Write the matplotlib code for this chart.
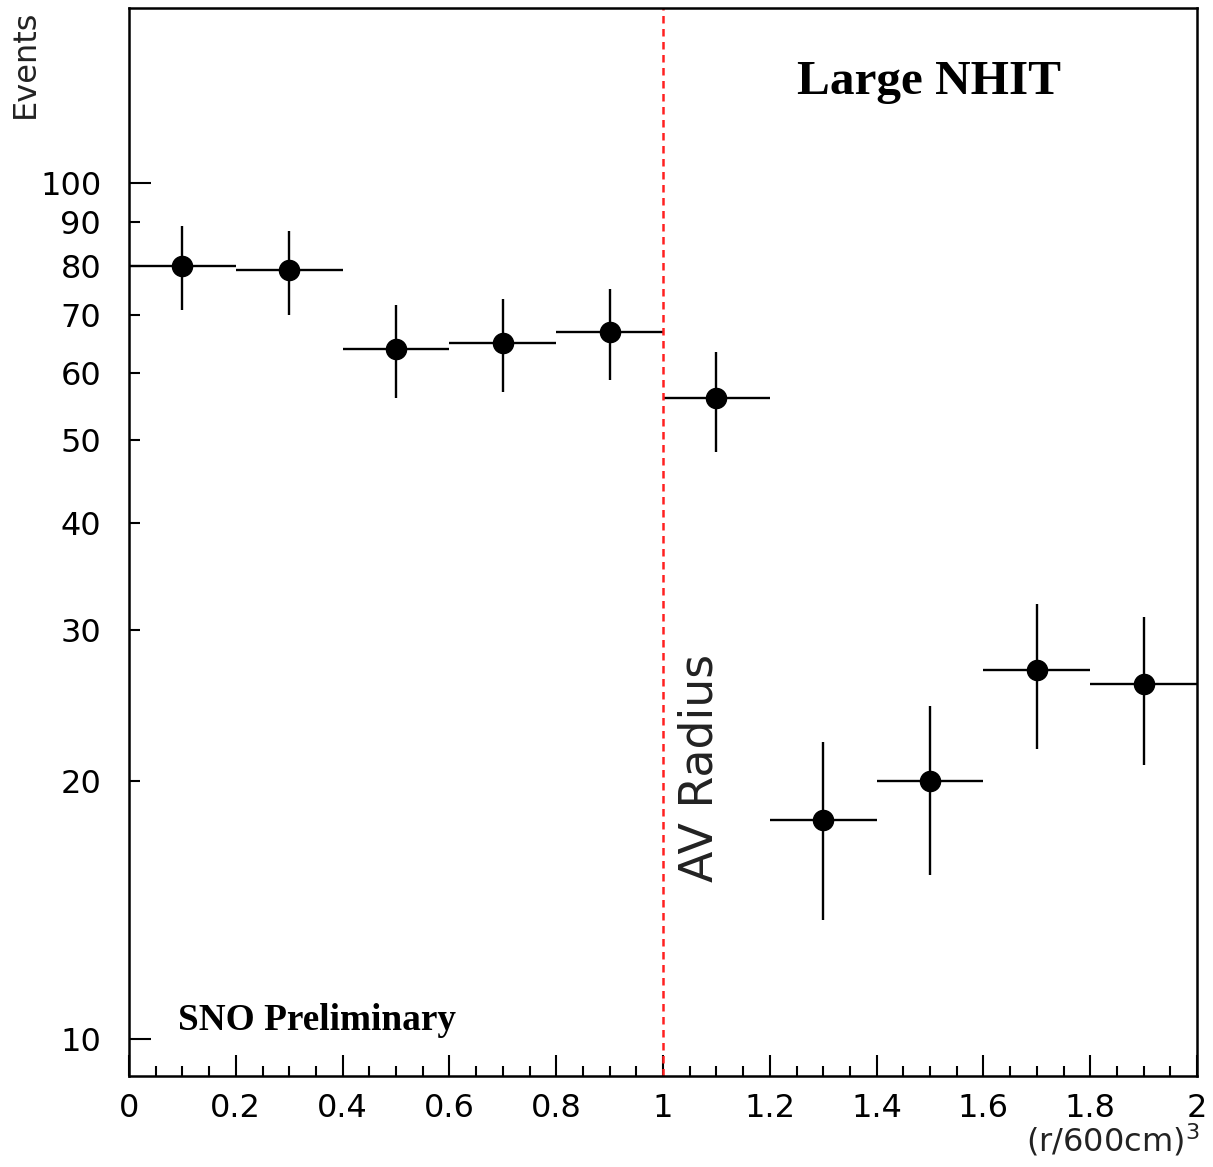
import numpy as np
import matplotlib
matplotlib.use("Agg")
import matplotlib.pyplot as plt
from matplotlib.ticker import FixedLocator, FixedFormatter

# Data
bin_centers = [0.1, 0.3, 0.5, 0.7, 0.9, 1.1, 1.3, 1.5, 1.7, 1.9]
bin_halfwidth = [0.1] * 10
counts = [80, 79, 64, 65, 67, 56, 18, 20, 27, 26]
count_err = [np.sqrt(c) for c in counts]

major_yticks = [10, 100]
minor_yticks = [20, 30, 40, 50, 60, 70, 80, 90]
xticks = [0, 0.2, 0.4, 0.6, 0.8, 1, 1.2, 1.4, 1.6, 1.8, 2]
xtick_labels = ["0", "0.2", "0.4", "0.6", "0.8", "1", "1.2", "1.4", "1.6", "1.8", "2"]

W, H = 1213, 1167
fig = plt.figure(figsize=(W / 100, H / 100), dpi=100)
ax = fig.add_axes([129 / W, 1 - 1076 / H, (1197 - 129) / W, (1076 - 8) / H])

ax.errorbar(bin_centers, counts, xerr=bin_halfwidth, yerr=count_err,
            fmt="o", color="black", ms=14.5, elinewidth=1.7, capsize=0)

ax.set_yscale("log")
ax.set_ylim(9.05, 160)
ax.set_xlim(0, 2)

ax.axvline(1.0, color="#ff2020", lw=1.8, ls=(0, (3, 2.2)))

# ticks
ax.yaxis.set_major_locator(FixedLocator(major_yticks))
ax.yaxis.set_major_formatter(FixedFormatter([str(v) for v in major_yticks]))
ax.yaxis.set_minor_locator(FixedLocator(minor_yticks))
ax.yaxis.set_minor_formatter(FixedFormatter([str(v) for v in minor_yticks]))
ax.set_xticks(xticks)
ax.set_xticklabels(xtick_labels)
ax.xaxis.set_minor_locator(FixedLocator(np.arange(0, 2.001, 0.05)))

tick_font = 23
ax.tick_params(axis="y", which="major", direction="in", length=16, width=1.5,
               labelsize=tick_font, pad=20, left=True, right=False)
ax.tick_params(axis="y", which="minor", direction="in", length=8, width=1.5,
               labelsize=tick_font, pad=20, left=True, right=False)
ax.tick_params(axis="x", which="major", direction="in", length=15, width=1.5,
               labelsize=tick_font, pad=12, top=False)
ax.tick_params(axis="x", which="minor", direction="in", length=7, width=1.5, top=False)

for s in ax.spines.values():
    s.set_linewidth(1.8)

# axis titles
fig.text(25 / W, 1 - 10 / H, "Events", rotation=90, ha="center", va="top",
         fontsize=tick_font, color="#222222")
fig.text(1199 / W, 1 - 1140 / H, "(r/600cm)$^{3}$", ha="right", va="center",
         fontsize=tick_font, color="#222222")

# annotations
fig.text(929 / W, 1 - 82 / H, "Large NHIT", ha="center", va="center",
         fontsize=35.5, fontweight="bold", family="Liberation Serif")
fig.text(178 / W, 1 - 1020 / H, "SNO Preliminary", ha="left", va="center",
         fontsize=26.8, fontweight="bold", family="Liberation Serif")
fig.text(700 / W, 1 - 768 / H, "AV Radius", rotation=90,
         ha="center", va="center", fontsize=33, color="#222222")

fig.savefig("out.png", dpi=100)
